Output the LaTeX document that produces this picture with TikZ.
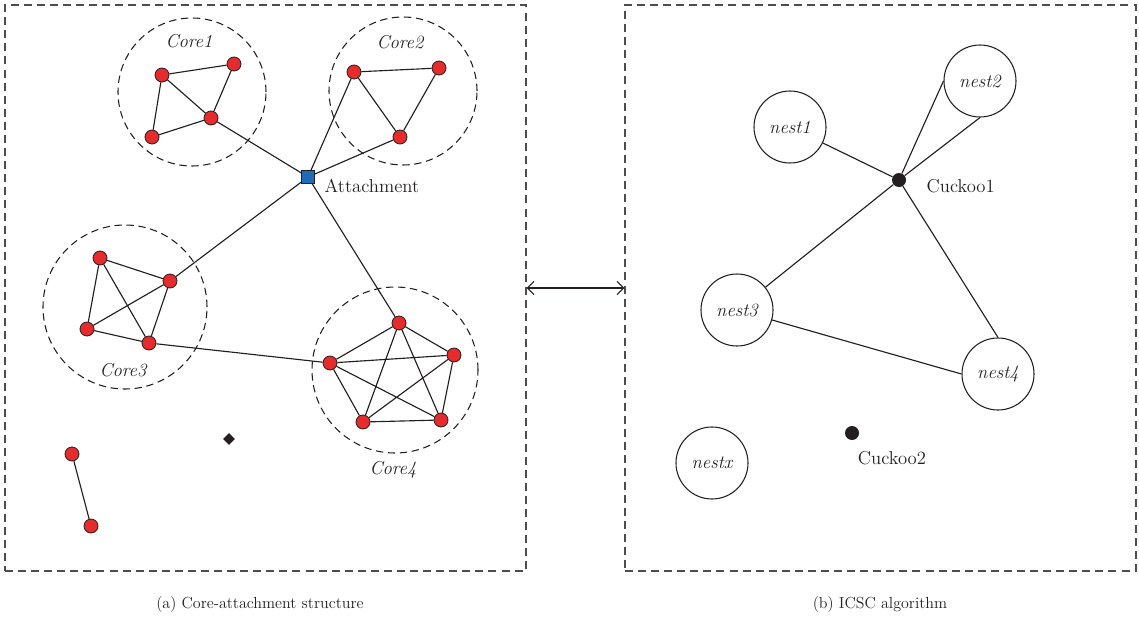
\documentclass[tikz,border=0pt]{standalone}
\usepackage{tikz}
\usetikzlibrary{positioning,arrows.meta,shapes.geometric}
\definecolor{dotred}{HTML}{E52B2B}
\definecolor{attblue}{HTML}{1E6BB8}
\definecolor{ink}{HTML}{231F20}
\definecolor{frameGray}{HTML}{4D4D4D}

\begin{document}
\begin{tikzpicture}[
    x=0.75pt, y=-0.75pt,
    panelBox/.style={rectangle, draw=frameGray, dash pattern=on 6pt off 3.8pt, line width=0.9pt, inner sep=0pt, minimum height=424.5pt},
    coreRing/.style={circle, draw=ink, dash pattern=on 5.5pt off 3.5pt, line width=0.8pt, inner sep=0pt},
    protDot/.style={circle, draw=ink, fill=dotred, line width=0.6pt, inner sep=0pt, minimum size=10.5pt},
    attSquare/.style={rectangle, draw=ink, fill=attblue, line width=0.6pt, inner sep=0pt, minimum size=9.5pt},
    nestRing/.style={circle, draw=ink, line width=0.8pt, inner sep=0pt, minimum size=54pt, font=\fontsize{14}{16}\selectfont\itshape, text=ink},
    cuckooDot/.style={circle, fill=ink, inner sep=0pt, minimum size=10.5pt},
    coreLabel/.style={font=\fontsize{14}{16}\selectfont\itshape, text=ink},
    plainLabel/.style={font=\fontsize{14}{16}\selectfont, text=ink},
    captionText/.style={font=\fontsize{12}{14}\selectfont, text=ink},
    linkLine/.style={draw=ink, line width=0.85pt}
]
    \useasboundingbox (0,0) rectangle (1139,625);

    % panels
    \node[panelBox, minimum width=390.75pt] (panelA) at (265.5,288) {};
    \node[panelBox, minimum width=383.25pt] (panelB) at (880.5,288) {};
    \draw[linkLine, {Straight Barb[length=5pt,width=10pt]}-{Straight Barb[length=5pt,width=10pt]}] (panelA.east) -- (panelB.west);

    \node[captionText] (capA) at (260,605) {(a) Core-attachment structure};
    \node[captionText] (capB) at (880,605) {(b) ICSC algorithm};

    % cores
    \node[coreRing, minimum size=111pt] (core1) at (192,92) {};
    \node[coreRing, minimum size=111pt] (core2) at (403,91) {};
    \node[coreRing, minimum size=123pt] (core3) at (125,307) {};
    \node[coreRing, minimum size=124.5pt] (core4) at (395,370) {};

    \node[coreLabel] (core1Label) at (189,41) {Core1};
    \node[coreLabel] (core2Label) at (400,42) {Core2};
    \node[coreLabel] (core3Label) at (123,370) {Core3};
    \node[coreLabel] (core4Label) at (393,470) {Core4};

    % proteins
    \node[protDot] (c1a) at (162,75) {};
    \node[protDot] (c1b) at (234,64) {};
    \node[protDot] (c1c) at (211,118) {};
    \node[protDot] (c1d) at (152,137) {};

    \node[protDot] (c2a) at (354,72) {};
    \node[protDot] (c2b) at (439,68) {};
    \node[protDot] (c2c) at (400,137) {};

    \node[protDot] (c3a) at (100,258) {};
    \node[protDot] (c3b) at (170,281) {};
    \node[protDot] (c3c) at (87,329) {};
    \node[protDot] (c3d) at (149,343) {};

    \node[protDot] (c4a) at (399,323) {};
    \node[protDot] (c4b) at (454,355) {};
    \node[protDot] (c4c) at (441,420) {};
    \node[protDot] (c4d) at (363,422) {};
    \node[protDot] (c4e) at (330,363) {};

    \node[protDot] (lone1) at (72,454) {};
    \node[protDot] (lone2) at (91,526) {};
    \node[diamond, fill=ink, inner sep=0pt, minimum size=9pt] (isoNode) at (229,439) {};

    \node[attSquare] (att) at (308,177) {};
    \node[plainLabel, anchor=west] (attLabel) at (320,186) {Attachment};

    % core edges
    \draw[linkLine] (c1a) -- (c1b) -- (c1c) -- (c1d) -- (c1a) -- (c1c);
    \draw[linkLine] (c2a) -- (c2b) -- (c2c) -- (c2a);
    \draw[linkLine] (c3a) -- (c3b) -- (c3d) -- (c3c) -- (c3a) -- (c3d);
    \draw[linkLine] (c3b) -- (c3c);
    \draw[linkLine] (c4a) -- (c4b) -- (c4c) -- (c4d) -- (c4e) -- (c4a);
    \draw[linkLine] (c4a) -- (c4c) -- (c4e) -- (c4b) -- (c4d) -- (c4a);
    \draw[linkLine] (lone1) -- (lone2);
    \draw[linkLine] (c3d) -- (c4e);

    % attachment edges
    \draw[linkLine] (att) -- (c1c);
    \draw[linkLine] (att) -- (c2a);
    \draw[linkLine] (att) -- (c2c);
    \draw[linkLine] (att) -- (c3b);
    \draw[linkLine] (att) -- (c4a);

    % nests
    \node[nestRing] (nest1) at (790,127) {nest1};
    \node[nestRing] (nest2) at (980,81) {nest2};
    \node[nestRing] (nest3) at (737,310) {nest3};
    \node[nestRing] (nest4) at (998,374) {nest4};
    \node[nestRing] (nestx) at (712,463) {nestx};

    \node[cuckooDot] (cuckoo1) at (899,180) {};
    \node[plainLabel, anchor=west] (cuckoo1Label) at (922,186) {Cuckoo1};
    \node[cuckooDot] (cuckoo2) at (852,433) {};
    \node[plainLabel] (cuckoo2Label) at (892,458) {Cuckoo2};

    \draw[linkLine] (nest1) -- (cuckoo1);
    \draw[linkLine] (nest3) -- (cuckoo1) -- (nest2.south);
    \draw[linkLine] (cuckoo1) -- (nest2.west);
    \draw[linkLine] (cuckoo1) -- (nest4.north);
    \draw[linkLine] (nest3) -- (nest4.west);
\end{tikzpicture}
\end{document}
